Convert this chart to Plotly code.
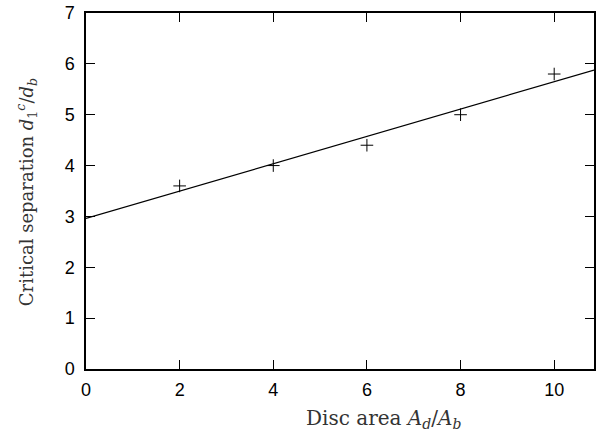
import plotly.graph_objects as go

# Measured critical separation against disc area
disc_area = [2, 4, 6, 8, 10]
critical_sep = [3.6, 4.0, 4.4, 5.0, 5.8]

# Linear fit through the measurements
fit_intercept = 2.96
fit_slope = 0.269
fit_x = [0, 10.85]
fit_y = [fit_intercept + fit_slope * x for x in fit_x]

x_ticks = [0, 2, 4, 6, 8, 10]
y_ticks = [0, 1, 2, 3, 4, 5, 6, 7]

fig = go.Figure()
fig.add_trace(go.Scatter(
    x=fit_x, y=fit_y, mode="lines",
    line=dict(color="black", width=1.2), showlegend=False,
))
fig.add_trace(go.Scatter(
    x=disc_area, y=critical_sep, mode="markers",
    marker=dict(symbol="cross-thin", size=9, line=dict(color="black", width=1)),
    showlegend=False,
))

axis_common = dict(
    showgrid=False, zeroline=False, showline=True, linecolor="black", linewidth=1.5,
    mirror="ticks", ticks="inside", ticklen=9, tickwidth=1.2, tickcolor="black",
    tickfont=dict(family="Liberation Sans", size=18, color="black"),
)
fig.update_xaxes(range=[0, 10.85], tickvals=x_ticks, ticktext=[str(v) for v in x_ticks],
                 ticklabelstandoff=4, **axis_common)
fig.update_yaxes(range=[0, 7], tickvals=y_ticks, ticktext=[str(v) for v in y_ticks],
                 ticklabelstandoff=6, **axis_common)

fig.update_layout(
    width=596, height=436,
    margin=dict(l=86, r=0, t=13, b=67),
    plot_bgcolor="white", paper_bgcolor="white",
    annotations=[
        dict(text="Disc area <i>A<sub>d</sub></i>/<i>A<sub>b</sub></i>",
             xref="paper", yref="paper", x=(385 - 86) / 510, y=-(419 - 369) / 356,
             xanchor="center", yanchor="middle", showarrow=False,
             font=dict(family="DejaVu Serif", size=20, color="#333")),
        dict(text="Critical separation <i>d</i><sub>1</sub><sup><i>c</i></sup>/<i>d<sub>b</sub></i>",
             xref="paper", yref="paper", x=-(86 - 26) / 510, y=(369 - 192) / 356,
             xanchor="center", yanchor="middle", textangle=-90, showarrow=False,
             font=dict(family="DejaVu Serif", size=18, color="#333")),
    ],
)

fig.write_html("out.html")
